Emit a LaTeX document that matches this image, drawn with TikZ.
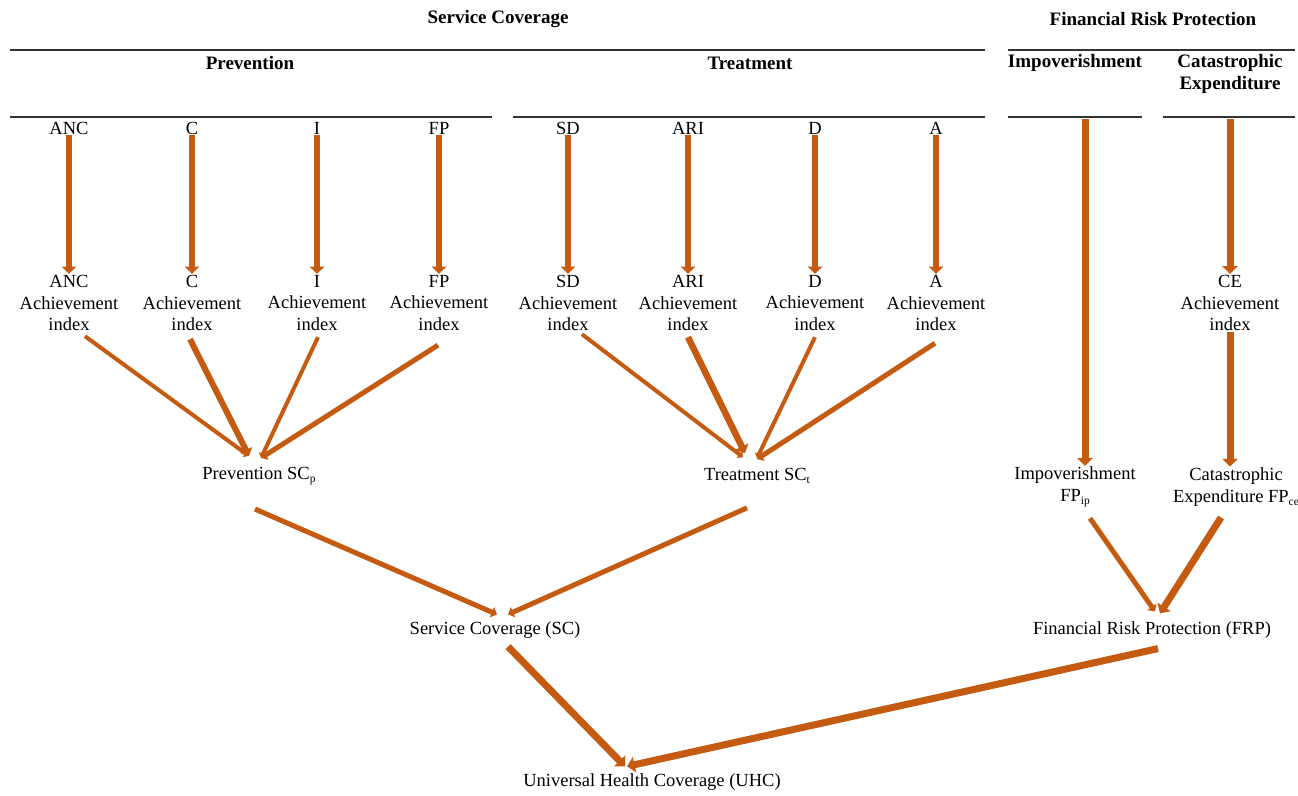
\documentclass[tikz,border=0pt]{standalone}
\usepackage{fontspec}
\setmainfont{Liberation Serif}
\usetikzlibrary{arrows.meta,calc}
\definecolor{arr}{HTML}{C55A11}
\newcommand\mysub[1]{\raisebox{-0.35ex}{\fontsize{11.5}{11.5}\selectfont #1}}
\begin{document}
\begin{tikzpicture}[x=1pt,y=-1pt,
 lbl/.style={font=\fontsize{18.5}{21.8}\selectfont, align=center, inner sep=1pt},
 hdr/.style={font=\fontsize{19}{22}\selectfont\bfseries, align=center, inner sep=1pt},
 rule/.style={line width=1.3pt, draw=black!80},
 ar/.style={draw=arr, line width=#1, -{Triangle[width=0pt 2.2,length=0pt 1.1]}},
 ar/.default=5pt]
\useasboundingbox (0,0) rectangle (1298,795);
% headers
\node[hdr] (hsc) at (498,19) {Service Coverage};
\node[hdr] (hfrp) at (1153,19) {Financial Risk Protection};
\node[hdr] (hprev) at (250,63) {Prevention};
\node[hdr] (htreat) at (750,63) {Treatment};
\node[hdr] (himp) at (1075,63) {Impoverishment};
\node[hdr] (hcat) at (1230,74) {Catastrophic\\Expenditure};
% rules
\draw[rule] (10,50) -- (985,50);
\draw[rule] (1008,50) -- (1295,50);
\draw[rule] (10,117) -- (492,117);
\draw[rule] (513,117) -- (985,117);
\draw[rule] (1008,117) -- (1142,117);
\draw[rule] (1163,117) -- (1295,117);
% indicators
\foreach \n/\t/\x in {anc/ANC/69, c/C/192, i/I/317, fp/FP/439, sd/SD/568, ari/ARI/688, d/D/815, a/A/936}{
 \node[lbl] (t\n) at (\x,128) {\t};
 \node[lbl] (x\n) at (\x,303) {\t\\Achievement\\index};
 \draw[ar=6.5pt] (t\n.south) -- (x\n.north);
}
% intermediate nodes
\node[lbl] (prev) at (259,476) {Prevention SC\mysub{p}};
\node[lbl] (treat) at (757,476) {Treatment SC\mysub{t}};
\node[lbl] (fpip) at (1075,487) {Impoverishment\\FP\mysub{ip}};
\node[lbl] (xce) at (1230,303) {CE\\Achievement\\index};
\node[lbl] (fpce) at (1236,487) {Catastrophic\\Expenditure FP\mysub{ce}};
\node[lbl] (sc) at (495,630) {Service Coverage (SC)};
\node[lbl] (frp) at (1152,630) {Financial Risk Protection (FRP)};
\node[lbl] (uhc) at (652,782) {Universal Health Coverage (UHC)};
\coordinate (impTop) at (1085,119);
\coordinate (catTop) at (1230,119);
% financial verticals
\draw[ar=7pt] (impTop) -- (impTop |- fpip.north);
\draw[ar=7pt] (catTop) -- (xce.north);
\draw[ar=7pt] (xce.south) -- (xce.south |- fpce.north);
% prevention
\draw[ar=4pt] ($(xanc.south)+(16,4)$) -- ($(prev.north)+(-10,-10)$);
\draw[ar=6pt] ($(xc.south)+(-2,7)$) -- ($(prev.north)+(-10,-10)$);
\draw[ar=4pt] ($(xi.south)+(1,5)$) -- ($(prev.north)+(2,-8)$);
\draw[ar=5pt] ($(xfp.south)+(-1,13)$) -- ($(prev.north)+(2,-8)$);
% treatment
\draw[ar=4pt] ($(xsd.south)+(14,2)$) -- ($(treat.north)+(-14,-10)$);
\draw[ar=6.5pt] ($(xari.south)+(0,5)$) -- ($(treat.north)+(-12,-14)$);
\draw[ar=4pt] ($(xd.south)+(0,5)$) -- ($(treat.north)+(0,-9)$);
\draw[ar=5pt] ($(xa.south)+(-1,11)$) -- ($(treat.north)+(0,-8)$);
% to SC and FRP
\draw[ar=5pt] ($(prev.south)+(-4,23)$) -- ($(sc.north)+(2,-6)$);
\draw[ar=5pt] ($(treat.south)+(-10,23)$) -- ($(sc.north)+(13,-6)$);
\draw[ar=5pt] ($(fpip.south)+(15,10)$) -- ($(frp.north)+(3,-9)$);
\draw[ar=7pt] ($(fpce.south)+(-15,10)$) -- ($(frp.north)+(8,-7)$);
% to UHC
\draw[ar=7pt] ($(sc.south)+(13,7)$) -- ($(uhc.north)+(-27,-6)$);
\draw[ar=7pt] ($(frp.south)+(6,9)$) -- ($(uhc.north)+(-25,-6)$);
\end{tikzpicture}
\end{document}
